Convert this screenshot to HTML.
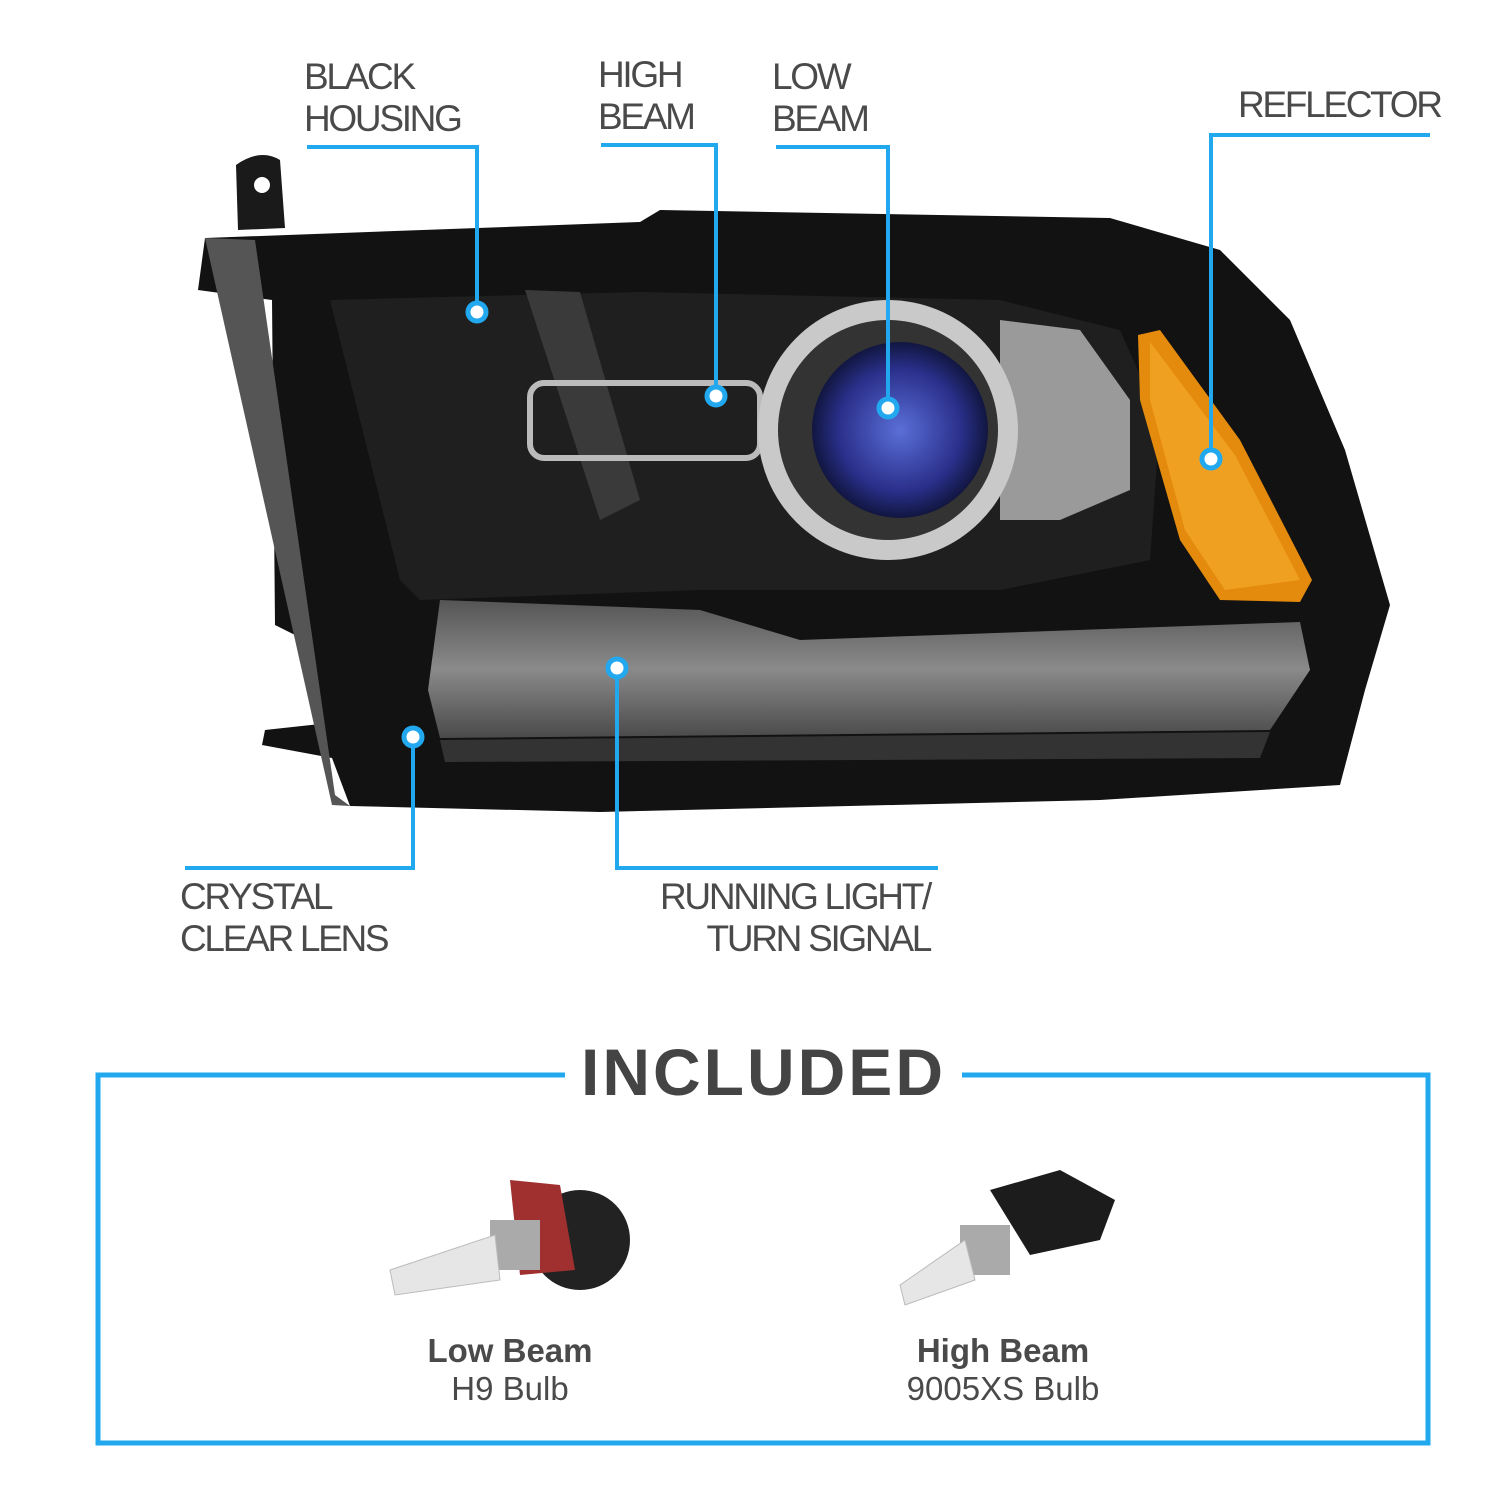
<!DOCTYPE html>
<html><head><meta charset="utf-8"><style>
html,body{margin:0;padding:0;background:#fff}
body{width:1500px;height:1500px;position:relative;overflow:hidden;font-family:"Liberation Sans",sans-serif}
.t{position:absolute;color:#4a4a4a;font-size:37px;line-height:42px;letter-spacing:-2.3px}
</style></head><body>
<svg width="1500" height="1500" style="position:absolute;left:0;top:0">
<defs>
<radialGradient id="lens" cx="50%" cy="50%" r="50%"><stop offset="0" stop-color="#5a6fd8"/><stop offset="0.7" stop-color="#2a2f8a"/><stop offset="1" stop-color="#111640"/></radialGradient>
<linearGradient id="drl" x1="0" y1="0" x2="0" y2="1"><stop offset="0" stop-color="#555"/><stop offset="0.5" stop-color="#8a8a8a"/><stop offset="1" stop-color="#4a4a4a"/></linearGradient>
</defs>
<path d="M238,230 L236,165 Q260,148 280,160 L285,228 Z" fill="#1a1a1a"/>
<circle cx="262" cy="185" r="8" fill="#fff"/>
<path d="M205,238 L640,222 L660,210 L1110,218 L1220,250 L1290,320 L1345,450 L1390,605 L1365,690 L1340,785 L1100,800 L600,812 L350,806 L332,758 L262,745 L265,730 L320,724 L305,640 L275,625 L272,300 L198,290 Z" fill="#121212"/>
<path d="M205,238 L255,240 L335,795 L350,806 L332,805 Z" fill="#555"/>
<path d="M330,300 L640,292 L1000,300 L1120,330 L1160,420 L1150,560 L1000,590 L700,590 L420,600 L400,580 Z" fill="#1f1f1f"/>
<path d="M525,290 L580,292 L640,500 L600,520 Z" fill="#3a3a3a"/>
<rect x="530" y="383" width="230" height="75" rx="14" fill="none" stroke="#bbb" stroke-width="6"/>
<path d="M1000,320 L1080,330 L1130,400 L1130,490 L1060,520 L1000,520 Z" fill="#9a9a9a"/>
<circle cx="888" cy="430" r="130" fill="#c9c9c9"/>
<circle cx="888" cy="430" r="110" fill="#333"/>
<circle cx="900" cy="430" r="88" fill="url(#lens)"/>
<path d="M1138,335 L1160,330 L1240,440 L1312,580 L1300,602 L1220,600 L1180,540 L1140,400 Z" fill="#e48a0c"/>
<path d="M1150,342 L1235,455 L1300,580 L1225,590 L1185,530 L1150,400 Z" fill="#f0a020"/>
<path d="M440,600 L700,610 L800,640 L1300,622 L1310,670 L1270,730 L440,738 L428,690 Z" fill="url(#drl)"/>
<path d="M440,740 L1270,732 L1260,758 L445,762 Z" fill="#333"/>
<g fill="none" stroke="#22a8ef" stroke-width="4">
<polyline points="307,147 477,147 477,312"/>
<polyline points="601,145 716,145 716,396"/>
<polyline points="776,147 888,147 888,408"/>
<polyline points="1430,135 1211,135 1211,459"/>
<polyline points="413,737 413,868 185,868"/>
<polyline points="617,668 617,868 938,868"/>
<polyline points="565,1075 98,1075 98,1443 1428,1443 1428,1075 962,1075" stroke-width="5"/>
</g>
<g fill="#fff" stroke="#22a8ef" stroke-width="5">
<circle cx="477" cy="312" r="9"/><circle cx="716" cy="396" r="9"/><circle cx="888" cy="408" r="9"/>
<circle cx="1211" cy="459" r="9"/><circle cx="413" cy="737" r="9"/><circle cx="617" cy="668" r="9"/>
</g>
<ellipse cx="580" cy="1240" rx="50" ry="50" fill="#222"/>
<path d="M510,1180 L560,1185 L575,1270 L520,1275 Z" fill="#a03030"/>
<rect x="490" y="1220" width="50" height="50" fill="#aaa"/>
<path d="M390,1270 L495,1235 L500,1280 L395,1295 Z" fill="#e6e6e6" stroke="#bbb"/>
<path d="M990,1190 L1060,1170 L1115,1200 L1100,1240 L1030,1255 Z" fill="#1c1c1c"/>
<rect x="960" y="1225" width="50" height="50" fill="#aaa"/>
<path d="M900,1285 L965,1240 L975,1280 L905,1305 Z" fill="#e6e6e6" stroke="#bbb"/>
</svg>
<div class="t" style="left:304px;top:56px">BLACK<br>HOUSING</div>
<div class="t" style="left:598px;top:54px">HIGH<br>BEAM</div>
<div class="t" style="left:772px;top:56px">LOW<br>BEAM</div>
<div class="t" style="left:1238px;top:84px">REFLECTOR</div>
<div class="t" style="left:180px;top:876px">CRYSTAL<br>CLEAR LENS</div>
<div class="t" style="right:570px;top:876px;text-align:right">RUNNING LIGHT/<br>TURN SIGNAL</div>
<div style="position:absolute;left:565px;width:397px;top:1032px;text-align:center;font-weight:bold;font-size:66px;color:#444;letter-spacing:3px;line-height:80px">INCLUDED</div>
<div style="position:absolute;left:360px;width:300px;top:1332px;text-align:center;color:#4a4a4a;font-size:33px;line-height:38px"><b>Low Beam</b><br>H9 Bulb</div>
<div style="position:absolute;left:853px;width:300px;top:1332px;text-align:center;color:#4a4a4a;font-size:33px;line-height:38px"><b>High Beam</b><br>9005XS Bulb</div>
</body></html>
